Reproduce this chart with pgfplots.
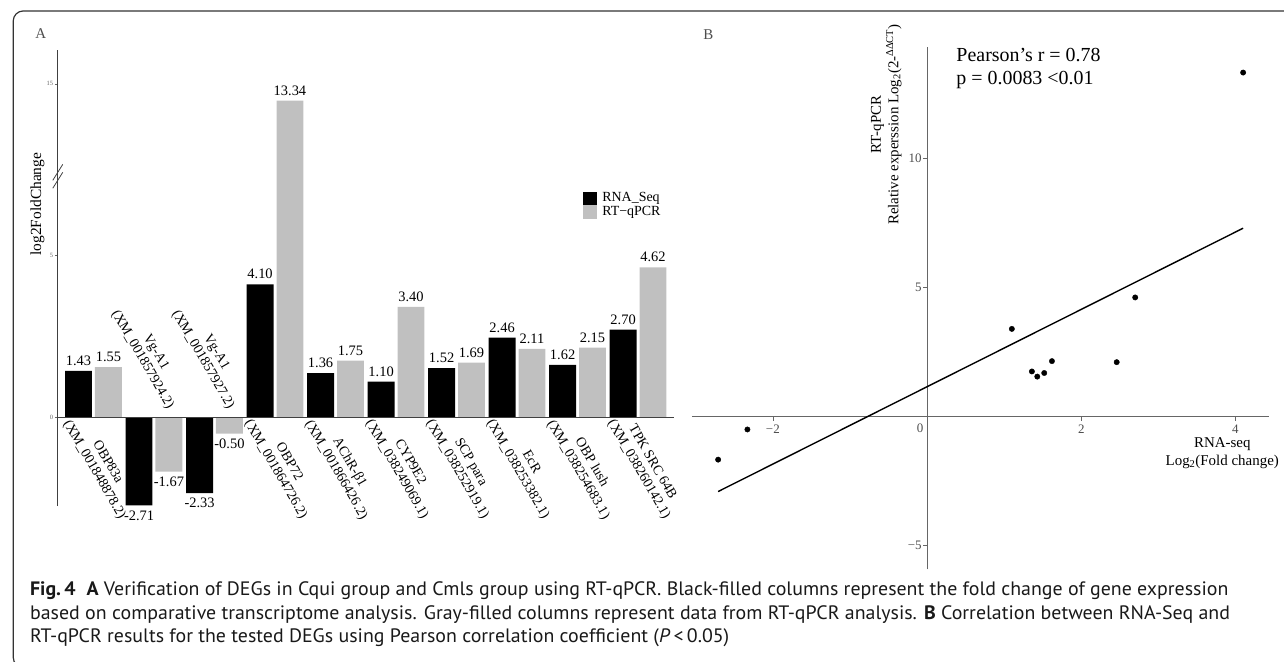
\documentclass[border=0pt]{standalone}
\usepackage{pgfplots}
\pgfplotsset{compat=1.18}
\usepackage{fontspec}
\usepackage{graphicx}
\setmainfont{Liberation Serif}
\newfontfamily\capfont{PT Sans}
\definecolor{barg}{RGB}{192,192,192}
\definecolor{tickg}{RGB}{77,77,77}
\newlength\capw
\newcommand\capA{\textbf{Fig.\,4}\hspace{0.55em}\textbf{A} Verification of DEGs in Cqui group and Cmls group using RT-qPCR. Black-filled columns represent the fold change of gene expression}
\newcommand\capB{based on comparative transcriptome analysis. Gray-filled columns represent data from RT-qPCR analysis. \textbf{B} Correlation between RNA-Seq and}
\newcommand\capC{RT-qPCR results for the tested DEGs using Pearson correlation coefficient (\textit{P}\,<\,0.05)}
\newcommand\cfont{\capfont\fontsize{19.5}{23}\selectfont}
\begin{document}
\settowidth\capw{\cfont\capA}
\pgfmathsetmacro\capsx{1203/\capw}
\begin{tikzpicture}
\useasboundingbox (0pt,0pt) rectangle (1284pt,-664pt);
\begin{scope}
\clip (0pt,0pt) rectangle (1284pt,-664pt);
\draw[line width=1.2pt, black!80, rounded corners=10pt] (8.3pt,-11pt) rectangle (1300pt,-670pt);
\end{scope}

% ---------------- Panel A ----------------
\begin{axis}[
  at={(53pt,-508pt)}, anchor=south west,
  scale only axis, width=619pt, height=458pt,
  xmin=-0.59, xmax=9.6,
  ymin=-2.73, ymax=18.34,
  y coord trafo/.code={\pgfmathparse{(#1>7.5)*(5.58+0.313*#1)+(#1<=7.5)*(#1)}},
  y coord inv trafo/.code={\pgfmathparse{(#1>7.7)*((#1-5.58)/0.313)+(#1<=7.7)*(#1)}},
  axis x line=none, axis y line=left,
  axis line style={-, black!75, line width=0.8pt},
  ytick={0,5,15}, yticklabels={0,5,15},
  tick align=outside, major tick length=3pt,
  ytick style={black!60, line width=0.5pt},
  yticklabel style={font=\fontsize{6.5}{7}\selectfont, text=black!60, inner sep=1.5pt},
  xtick=\empty,
  ybar=3pt, bar width=27pt,
  point meta=explicit,
  nodes near coords={\pgfmathprintnumber[fixed, fixed zerofill, precision=2, assume math mode=true]{\pgfplotspointmeta}},
  every node near coord/.append style={font=\fontsize{14.5}{16}\selectfont, inner sep=5pt, text=black},
  clip=false,
]
\addplot[fill=black, draw=none] table[meta=l] {
x y l
0 1.43 1.43
1 -2.71 -2.71
2 -2.33 -2.33
3 4.10 4.10
4 1.36 1.36
5 1.10 1.10
6 1.52 1.52
7 2.46 2.46
8 1.62 1.62
9 2.70 2.70
};
\addplot[fill=barg, draw=none] table[meta=l] {
x y l
0 1.55 1.55
1 -1.67 -1.67
2 -0.50 -0.50
3 13.34 13.34
4 1.75 1.75
5 3.40 3.40
6 1.69 1.69
7 2.11 2.11
8 2.15 2.15
9 4.62 4.62
};
\draw[black!75, line width=0.9pt] (axis cs:-0.59,0) -- (axis cs:9.6,0);
\tikzset{catlab/.style={rotate=-60, align=center, inner sep=0pt, font=\fontsize{14}{15.5}\selectfont}}
\node[catlab, anchor=west] at (axis cs:-0.345,0) {OBP83a\\(XM\_001848878.2)};
\node[catlab, anchor=east] at (axis cs:1.38,0.39) {Vg-A1\\(XM\_001857924.2)};
\node[catlab, anchor=east] at (axis cs:2.38,0.39) {Vg-A1\\(XM\_001857927.2)};
\node[catlab, anchor=west] at (axis cs:2.655,0) {OBP72\\(XM\_001864726.2)};
\node[catlab, anchor=west] at (axis cs:3.655,0) {AChR-β1\\(XM\_001866426.2)};
\node[catlab, anchor=west] at (axis cs:4.655,0) {CYP9E2\\(XM\_038249069.1)};
\node[catlab, anchor=west] at (axis cs:5.655,0) {SCP para\\(XM\_038252919.1)};
\node[catlab, anchor=west] at (axis cs:6.655,0) {EcR\\(XM\_038253382.1)};
\node[catlab, anchor=west] at (axis cs:7.655,0) {OBP lush\\(XM\_038254683.1)};
\node[catlab, anchor=west] at (axis cs:8.655,0) {TPK SRC 64B\\(XM\_038260142.1)};
\end{axis}

% axis break marks
\draw[black!75, line width=0.8pt] (48pt,-181pt) -- (58pt,-165pt);
\draw[black!75, line width=0.8pt] (48pt,-189pt) -- (58pt,-173pt);

% legend A
\fill[black] (580.7pt,-192.7pt) rectangle (594.2pt,-206.2pt);
\fill[barg] (580.7pt,-206.2pt) rectangle (594.2pt,-219.7pt);
\node[anchor=west, inner sep=0pt, font=\fontsize{14}{15}\selectfont] at (599.5pt,-199.4pt) {RNA\_Seq};
\node[anchor=west, inner sep=0pt, font=\fontsize{14}{15}\selectfont] at (599.5pt,-212.9pt) {RT−qPCR};

\node[font=\fontsize{15.5}{17}\selectfont, rotate=90] at (32.5pt,-205pt) {log2FoldChange};
\node[font=\fontsize{15}{16}\selectfont, text=tickg] at (36pt,-34pt) {A};
\node[font=\fontsize{15}{16}\selectfont, text=tickg] at (706pt,-35pt) {B};

% ---------------- Panel B ----------------
\begin{axis}[
  at={(689.6pt,-571.7pt)}, anchor=south west,
  scale only axis, width=578.9pt, height=525pt,
  xmin=-3.05, xmax=4.43, ymin=-5.93, ymax=14.35,
  axis lines=middle, axis line style={-, black!60, line width=0.8pt},
  xtick={-2,2,4}, xticklabels={−2,2,4},
  ytick={-5,5,10}, yticklabels={−5,5,10},
  major tick length=4pt,
  xtick style={yshift=-2pt, black!60, line width=0.6pt},
  ytick style={xshift=-2pt, black!60, line width=0.6pt},
  tick label style={font=\fontsize{13}{14}\selectfont, text=tickg},
  xticklabel style={anchor=north, yshift=-3pt},
  yticklabel style={anchor=east},
  clip=false,
]
\addplot[only marks, mark=*, mark size=2.7pt, black] table {
x y
1.43 1.55
-2.71 -1.67
-2.33 -0.50
4.10 13.34
1.36 1.75
1.10 3.40
1.52 1.69
2.46 2.11
1.62 2.15
2.70 4.62
};
\addplot[black, line width=1.4pt, no marks] coordinates {(-2.71,-2.907) (4.10,7.305)};
\node[anchor=north east, inner sep=0pt, font=\fontsize{13}{14}\selectfont, text=tickg, xshift=-3.6pt, yshift=-7.2pt] at (axis cs:0,0) {0};
\end{axis}

\node[anchor=base west, inner sep=0pt, font=\fontsize{20}{23.3}\selectfont] at (955pt,-61.7pt) {Pearson’s r = 0.78};
\node[anchor=base west, inner sep=0pt, font=\fontsize{20}{23.3}\selectfont] at (955pt,-85pt) {p = 0.0083 <0.01};
\node[rotate=90, align=center, font=\fontsize{15}{17.5}\selectfont] at (884.7pt,-125pt) {RT-qPCR\\Relative experssion Log\textsubscript{2}(2-\textsuperscript{ΔΔCT})};
\node[align=center, font=\fontsize{15}{18}\selectfont] at (1222pt,-455pt) {RNA-seq\\Log\textsubscript{2}(Fold change)};

% ---------------- Caption ----------------
\node[anchor=base west, inner sep=0pt, text=black!90] at (25pt,-598.3pt) {\scalebox{\capsx}[1]{\cfont\capA}};
\node[anchor=base west, inner sep=0pt, text=black!90] at (25pt,-622.3pt) {\scalebox{\capsx}[1]{\cfont\capB}};
\node[anchor=base west, inner sep=0pt, text=black!90] at (25pt,-645.3pt) {\scalebox{\capsx}[1]{\cfont\capC}};
\end{tikzpicture}
\end{document}
